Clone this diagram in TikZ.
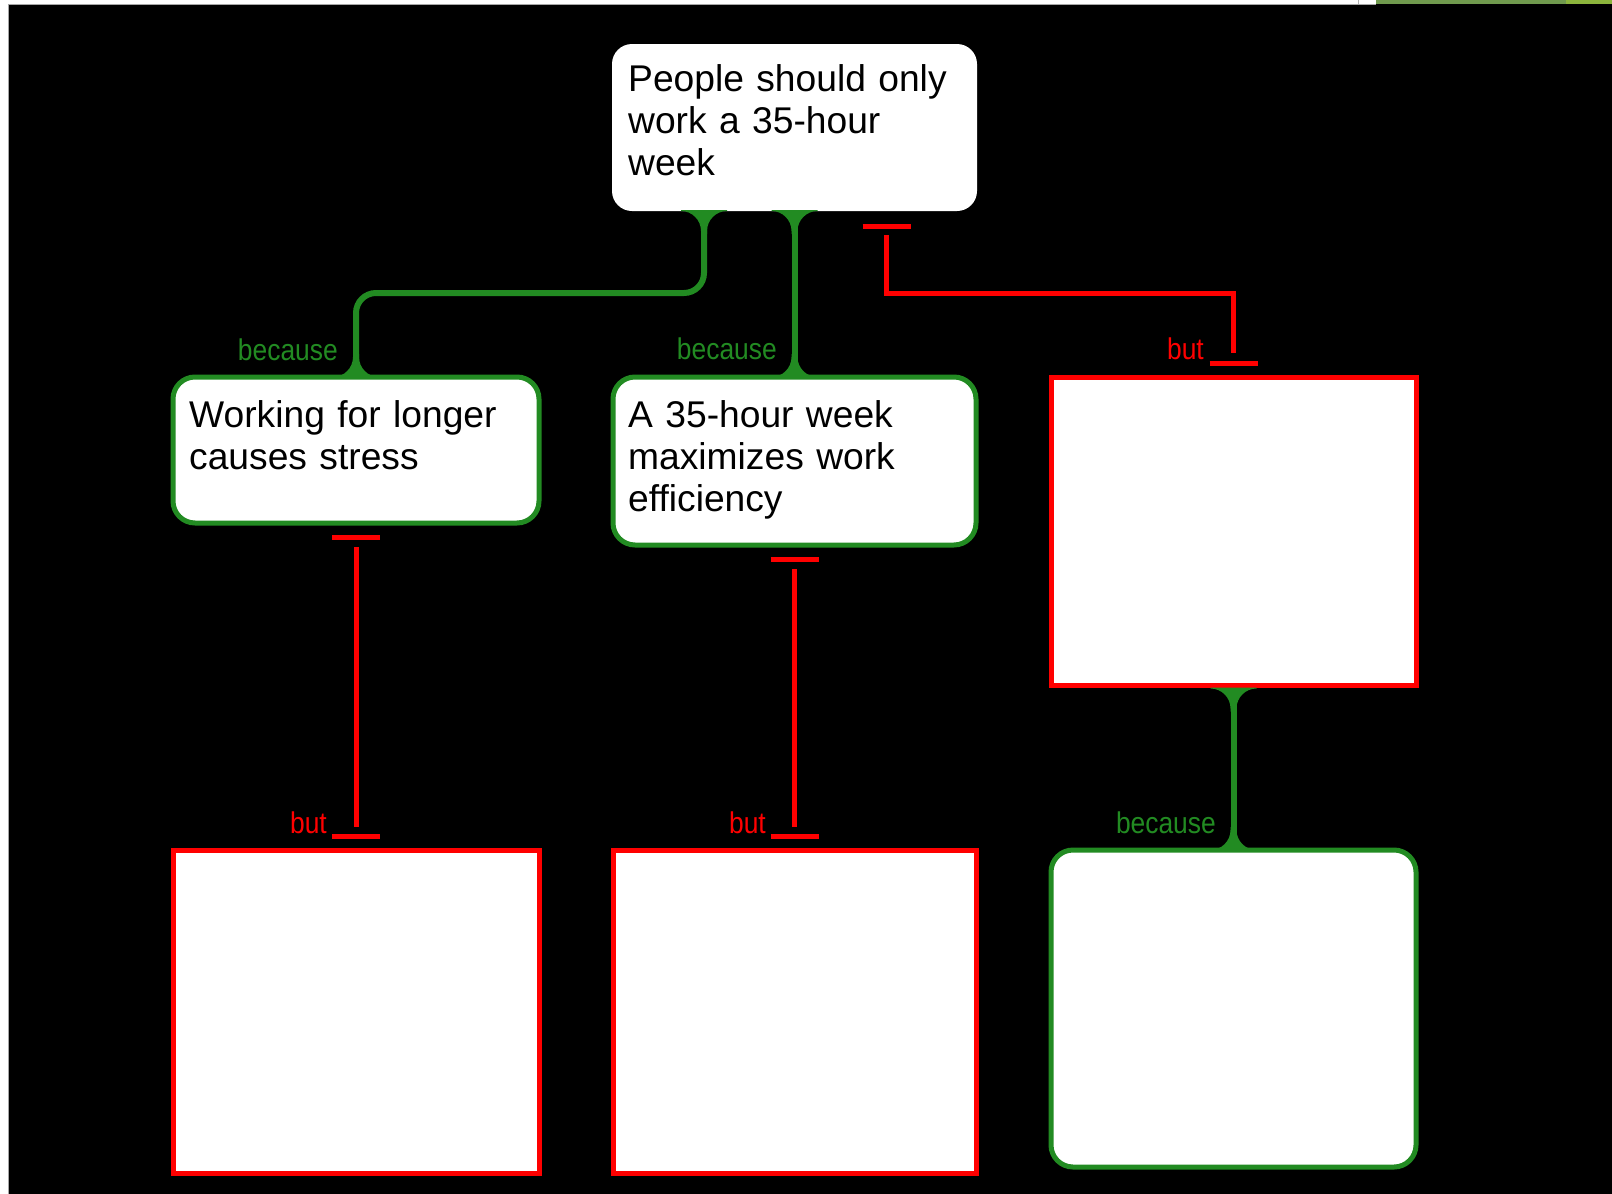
\documentclass[tikz,border=0pt]{standalone}
\usepackage{fontspec}
\setmainfont{Liberation Sans}
\newfontfamily\labelfont[FakeStretch=0.88]{Liberation Sans}
\usetikzlibrary{calc}
\definecolor{argGreen}{RGB}{34,139,34}
\definecolor{argRed}{RGB}{255,0,0}
\definecolor{stripGreen}{RGB}{112,154,78}
\definecolor{stripLime}{RGB}{140,180,60}
\begin{document}
\begin{tikzpicture}[x=1pt,y=-1pt,
  box/.style={rectangle, fill=white, inner sep=0pt, outer sep=0pt, anchor=north west},
  claim/.style={box, draw=none, rounded corners=20pt},
  reason/.style={box, draw=argGreen, line width=5pt, rounded corners=22pt},
  objection/.style={box, draw=argRed, line width=5pt, sharp corners},
  boxtext/.style={anchor=base west, inner sep=0pt, align=left, text width=345pt,
    font=\fontsize{37.2}{42}\selectfont},
  support/.style={draw=argGreen, line width=6pt},
  oppose/.style={draw=argRed, line width=5pt},
  linkword/.style={anchor=base east, inner sep=0pt, font=\labelfont\fontsize{30}{30}\selectfont},
  because/.style={linkword, text=argGreen},
  but/.style={linkword, text=argRed},
  flare/.pic={\fill[argGreen] (-23,-1) -- (23,-1) -- (23,0)
      .. controls (12,0) and (3,9) .. (3,20) -- (3,23) -- (-3,23) -- (-3,20)
      .. controls (-3,9) and (-12,0) .. (-23,0) -- cycle;},
]
\useasboundingbox (0,0) rectangle (1612,1194);

% backdrop and the slide edge strips
\fill[black] (0,0) rectangle (1612,1194);
\fill[white] (0,0) rectangle (1612,4);
\fill[white] (0,0) rectangle (8,1194);
\draw[gray!70, line width=1pt] (8.5,1194) -- (8.5,4.5) -- (1376,4.5);
\draw[gray!60, line width=1pt] (1358,0) -- (1358,4);
\fill[stripGreen] (1376,0) rectangle (1566,4);
\fill[stripLime] (1566,0) rectangle (1612,4);

% connectors (drawn first so the boxes sit on top)
\coordinate (topL) at ($(612,44)+(92,167)$);
\draw[support, rounded corners=20pt] (topL) -- ++(0,82) -| (356,377);
\draw[support] (794.5,211) -- (794.5,377);
\draw[support] (1233.5,685) -- (1233.5,850);

% boxes
\node[claim, minimum width=365pt, minimum height=167pt] (top) at (612,44) {};
\node[reason, minimum width=366pt, minimum height=146pt] (L1) at (173,377) {};
\node[reason, minimum width=363pt, minimum height=168pt] (M1) at (613,377) {};
\node[objection, minimum width=365pt, minimum height=308pt] (R1) at (1051,377) {};
\node[objection, minimum width=366pt, minimum height=323pt] (L2) at (173,850) {};
\node[objection, minimum width=363pt, minimum height=323pt] (M2) at (613,850) {};
\node[reason, minimum width=365pt, minimum height=317pt] (R2) at (1051,850) {};

% box texts
\node[boxtext] (topText) at ($(top.north west)+(16,47)$) {People should only\\work a 35-hour\\week};
\node[boxtext] (L1Text) at ($(L1.north west)+(16,50)$) {Working for longer\\causes stress};
\node[boxtext] (M1Text) at ($(M1.north west)+(15,50)$) {A 35-hour week\\maximizes work\\efficiency};

% flared ends of the supporting links
\pic at ($(top.south)+(-90.5,0)$) {flare};
\pic[rotate=180] at (L1.north) {flare};
\pic at (top.south) {flare};
\pic[rotate=180] at (M1.north) {flare};
\pic at ($(R1.south)+(0,3.5)$) {flare};
\pic[rotate=180] at (R2.north) {flare};

% opposing links with bar ends
\draw[oppose] ($(top.south)+(92,24)$) |- ($(R1.north)+(0,-84)$) -- ($(R1.north)+(0,-24)$);
\draw[oppose] ($(top.south)+(68,15)$) -- ++(48,0);
\draw[oppose] ($(R1.north)+(-24,-14)$) -- ++(48,0);

\draw[oppose] ($(L1.south)+(0,24)$) -- ($(L2.north)+(0,-23)$);
\draw[oppose] ($(L1.south)+(-24,14.5)$) -- ++(48,0);
\draw[oppose] ($(L2.north)+(-24,-13.5)$) -- ++(48,0);

\draw[oppose] ($(M1.south)+(0,24)$) -- ($(M2.north)+(0,-23)$);
\draw[oppose] ($(M1.south)+(-24,14.5)$) -- ++(48,0);
\draw[oppose] ($(M2.north)+(-24,-13.5)$) -- ++(48,0);

% link words
\node[because] (wL1) at ($(L1.north)+(-18,-17)$) {because};
\node[because] (wM1) at ($(M1.north)+(-17.5,-18)$) {because};
\node[but] (wR1) at ($(R1.north)+(-29.5,-18)$) {but};
\node[but] (wL2) at ($(L2.north)+(-29,-17)$) {but};
\node[but] (wM2) at ($(M2.north)+(-28.5,-17)$) {but};
\node[because] (wR2) at ($(R2.north)+(-17.5,-17)$) {because};
\end{tikzpicture}
\end{document}
